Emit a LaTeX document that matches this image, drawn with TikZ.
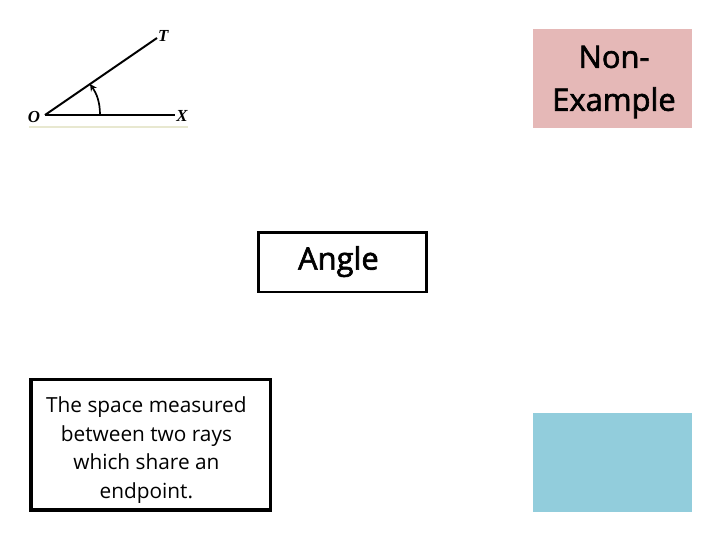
\documentclass[tikz,border=0pt]{standalone}
\usepackage{xcolor}
\usepackage{fontspec}
\setmainfont{Open Sans}
\newfontfamily\figfont{Liberation Serif}
\newfontface\cardfont[FakeBold=2]{Open Sans}
\definecolor{darkpink}{RGB}{229, 184, 183}
\definecolor{darkcyan}{RGB}{146, 205, 220}
\definecolor{lightbeige}{RGB}{232, 232, 208}
\tikzset{
	figlabel/.style={font=\figfont\bfseries\itshape\fontsize{12}{12}\selectfont, inner sep=0pt},
	figline/.style={black, line width=1.4pt},
	cardtext/.style={align=center, inner sep=0pt}
}

\begin{document}
\begin{tikzpicture}[scale=1.0]
			\useasboundingbox (0, 0) rectangle (18, 13.5);
			
			% ANGLE FIGURE
			\draw[lightbeige, line width=1.4pt] (0.725, 10.32) -- (4.7, 10.32);
			\coordinate (vertex) at (1.125, 10.625);
			\coordinate (rayT) at (3.925, 12.55);
			\coordinate (rayX) at (4.375, 10.625);
			\coordinate (arcfoot) at (2.5, 10.625);
			\coordinate (arctip) at (2.25, 11.4);
			\node[figlabel] (labelO) at (0.85, 10.58) {O};
			\node[figlabel] (labelT) at (4.08, 12.6) {T};
			\node[figlabel] (labelX) at (4.55, 10.6) {X};
			\draw[figline] (vertex) -- (rayT);
			\draw[figline] (vertex) -- (rayX);
			\draw[->, >=stealth, black, line width=1.2pt] (arcfoot) .. controls (2.5, 10.95) and (2.42, 11.15) .. (arctip);
			
			% NON-EXAMPLE
			\fill[darkpink] (13.325, 10.3) rectangle (17.3, 12.775);
			\node[cardtext, font=\cardfont\fontsize{22}{30.5}\selectfont] (nonexample) at (15.35, 11.45) {Non-\\Example};
			
			% TERM
			\draw[black, fill=white, line width=1.9pt] (6.47, 6.2) rectangle (10.67, 7.69);
			\node[cardtext, font=\cardfont\fontsize{22}{28}\selectfont] (term) at (8.46, 6.96) {Angle};
			
			% DEFINITION
			\draw[black, fill=white, line width=2.2pt] (0.775, 0.75) rectangle (6.76, 4.02);
			\node[cardtext, font=\fontsize{14.8}{20.2}\selectfont] (definition) at (3.66, 2.25) {The space measured\\between two rays\\which share an\\endpoint.};
			
			% EXAMPLE
			\fill[darkcyan] (13.325, 0.7) rectangle (17.3, 3.175);
			
		\end{tikzpicture}
\end{document}
